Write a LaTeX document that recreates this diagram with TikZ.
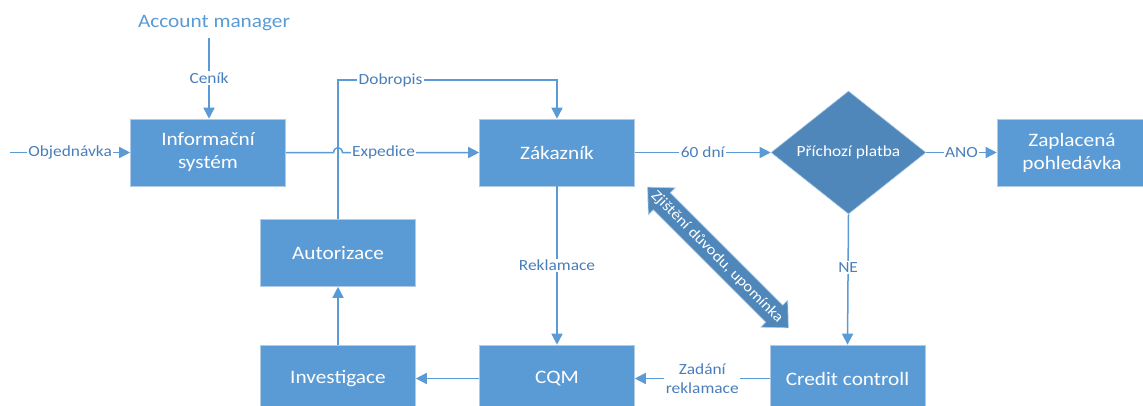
\documentclass[tikz,border=0pt]{standalone}
\usepackage{fontspec}
\setmainfont{Carlito}[FakeStretch=1.12]
\usetikzlibrary{arrows.meta,shapes.geometric}

\definecolor{boxblue}{HTML}{5B9BD5}
\definecolor{diablue}{HTML}{4F87BA}
\definecolor{lineblue}{HTML}{5B9BD5}
\definecolor{labelblue}{HTML}{4A7EBB}
\definecolor{boxedge}{HTML}{AFCBE8}

\tikzset{
  box/.style={draw=boxedge, line width=0.6pt, fill=boxblue, text=white,
    minimum width=155pt, minimum height=67pt, inner sep=0pt, align=center,
    font=\fontsize{19}{23}\selectfont},
  decision/.style={diamond, draw=boxedge, line width=0.6pt, fill=diablue, text=white,
    minimum width=155pt, minimum height=123pt, inner sep=0pt,
    font=\fontsize{15.5}{19}\selectfont},
  flow/.style={draw=lineblue, line width=1.5pt,
    -{Triangle[length=11pt,width=11pt]}},
  plainline/.style={draw=lineblue, line width=1.5pt},
  lbl/.style={fill=white, text=labelblue, inner sep=1.5pt, align=center,
    font=\fontsize{15.5}{19}\selectfont},
  blockarrow/.style={fill=diablue, draw=boxedge, line width=0.6pt},
}

\begin{document}
\begin{tikzpicture}[x=1pt, y=-1pt]
  \clip (0,0) rectangle (1143,405);
  \fill[white] (0,0) rectangle (1143,405);

  % process boxes
  \node[box] (info) at (208,152.5) {Informační\\systém};
  \node[box] (zak)  at (557,152.5) {Zákazník};
  \node[decision] (plat) at (848.5,152.5) {Příchozí platba};
  \node[box, minimum width=150pt] (zap) at (1072,152.5) {Zaplacená\\pohledávka};
  \node[box] (aut) at (338,253) {Autorizace};
  \node[box] (inv) at (338,378.5) {Investigace};
  \node[box] (cqm) at (557,378.5) {CQM};
  \node[box] (cc)  at (847.5,378.5) {Credit controll};

  \node[text=boxblue, inner sep=0pt, font=\fontsize{19}{23}\selectfont]
    (am) at (214,23) {Account manager};

  % free ends and bends
  \coordinate (objstart) at (10,152.5);
  \coordinate (amfoot) at (209,38);
  \coordinate (hopL) at (333.5,152.5);
  \coordinate (hopR) at (342.5,152.5);
  \coordinate (dobL) at (338,80);
  \coordinate (dobR) at (557,80);

  % connectors
  \draw[flow] (objstart) -- node[lbl]{Objednávka} (info.west);
  \draw[flow] (amfoot) -- node[lbl]{Ceník} (amfoot |- info.north);
  \draw[flow] (aut.north) -- (dobL) -- node[lbl, pos=0.24]{Dobropis} (dobR) -- (zak.north);
  \draw[flow] (info.east) -- (hopL)
    .. controls (334.5,146) and (341.5,146) .. (hopR)
    -- node[lbl, pos=0.3]{Expedice} (zak.west);
  \draw[flow] (zak.east) -- node[lbl]{60 dní} (plat.west);
  \draw[flow] (plat.east) -- node[lbl]{ANO} (zap.west);
  \draw[flow] (plat.south) -- node[lbl, pos=0.41]{NE} (cc.north);
  \draw[flow] (zak.south) -- node[lbl]{Reklamace} (cqm.north);
  \draw[flow] (cc.west) -- node[lbl]{Zadání\\reklamace} (cqm.east);
  \draw[flow] (cqm.west) -- (inv.east);
  \draw[flow] (inv.north) -- (aut.south);

  % two-headed block arrow
  \begin{scope}[shift={(718,257.5)}, rotate=-45]
    \path[blockarrow] (-99.5,0) -- (-79.5,19) -- (-79.5,12) -- (79.5,12)
      -- (79.5,19) -- (99.5,0) -- (79.5,-19) -- (79.5,-12) -- (-79.5,-12)
      -- (-79.5,-19) -- cycle;
  \end{scope}
  \node[rotate=-45, text=white, inner sep=0pt, font=\fontsize{15}{18}\selectfont]
    (zjist) at (717,257) {Zjištění důvodu, upomínka};
\end{tikzpicture}
\end{document}
